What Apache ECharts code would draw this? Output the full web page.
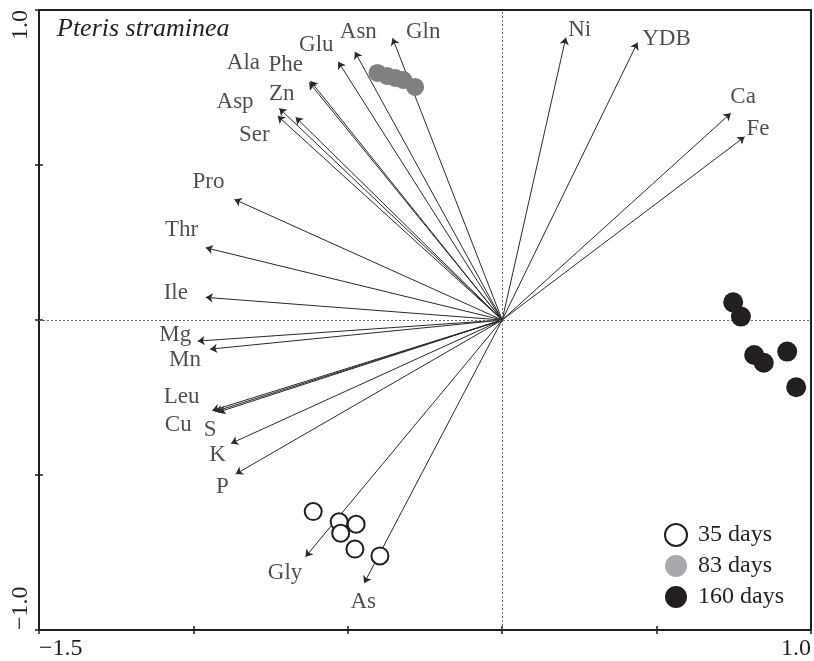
<!DOCTYPE html>
<html>
<head>
<meta charset="utf-8">
<script src="https://cdn.jsdelivr.net/npm/echarts@6/dist/echarts.min.js"></script>
<style>html,body{margin:0;padding:0;background:#fff}#c{width:814px;height:661px}</style>
</head>
<body>
<div id="c"></div>
<script>
// Loading vectors (arrow tips)
const varNames = ['Gln','Asn','Glu','Phe','Ala','Zn','Asp','Ser','Pro','Thr','Ile','Mg','Mn','Leu','Cu','S','K','P','Gly','As','Ni','YDB','Ca','Fe'];
const tipX = [-0.355,-0.477,-0.531,-0.621,-0.625,-0.669,-0.722,-0.727,-0.867,-0.960,-0.960,-0.986,-0.946,-0.939,-0.929,-0.919,-0.878,-0.863,-0.637,-0.447,0.206,0.438,0.740,0.785];
const tipY = [0.909,0.865,0.833,0.771,0.766,0.654,0.683,0.658,0.389,0.233,0.073,-0.068,-0.094,-0.292,-0.295,-0.297,-0.398,-0.497,-0.764,-0.849,0.911,0.895,0.667,0.591];
// Label anchor points (data space)
const labX = [-0.256,-0.466,-0.602,-0.701,-0.838,-0.714,-0.865,-0.803,-0.951,-1.038,-1.057,-1.059,-1.027,-1.038,-1.049,-0.946,-0.922,-0.906,-0.703,-0.450,0.251,0.532,0.780,0.828];
const labY = [0.929,0.928,0.887,0.823,0.828,0.729,0.704,0.597,0.446,0.290,0.088,-0.048,-0.129,-0.247,-0.339,-0.355,-0.435,-0.538,-0.817,-0.909,0.935,0.905,0.720,0.616];

// Sample scores
const d35X = [-0.612,-0.528,-0.473,-0.523,-0.477,-0.396];
const d35Y = [-0.618,-0.651,-0.659,-0.688,-0.739,-0.761];
const d83X = [-0.404,-0.372,-0.346,-0.320,-0.282];
const d83Y = [0.797,0.787,0.781,0.774,0.752];
const d160X = [0.748,0.773,0.816,0.847,0.923,0.952];
const d160Y = [0.057,0.011,-0.113,-0.138,-0.102,-0.217];

const groupNames = ['35 days','83 days','160 days'];
const xTickLabels = [-1.5, 1.0];
const yTickLabels = [-1.0, 1.0];
const titleText = 'Pteris straminea';

const FONT = 'Liberation Serif';
const INK = '#231f20';

const zip = (a,b) => a.map((v,i)=>[v,b[i]]);
const fmt = v => (v<0?'\u2212':'') + Math.abs(v).toFixed(1);

const chart = echarts.init(document.getElementById('c'), null, {renderer:'canvas'});

const arrowData = varNames.map((n,i)=>({name:n, coords:[[0,0],[tipX[i],tipY[i]]]}));
const labelData = varNames.map((n,i)=>({name:n, value:[labX[i],labY[i]]}));

const baseAxis = {
  type:'value', splitLine:{show:false}
};

chart.setOption({
  animation:false,
  backgroundColor:'#fff',
  title:{text:titleText, left:57, top:16, padding:0,
    textStyle:{fontFamily:FONT, fontStyle:'italic', fontWeight:'normal', fontSize:26, color:INK}},
  grid:{left:39, right:1, top:10, bottom:31, show:true, borderColor:INK, borderWidth:2, backgroundColor:'transparent'},
  legend:{
    data:[
      {name:groupNames[0]},
      {name:groupNames[1], itemStyle:{color:'#a7a9ac'}},
      {name:groupNames[2]}
    ],
    orient:'vertical', left:664, top:523, itemWidth:22, itemHeight:22, itemGap:7,
    icon:'circle', padding:0,
    textStyle:{fontFamily:FONT, fontSize:24, color:INK, padding:[0,0,0,6]}
  },
  xAxis:[
    Object.assign({}, baseAxis, {min:-1.5, max:1.0, interval:0.5, position:'bottom',
      axisLine:{show:true, onZero:false, lineStyle:{color:INK, width:2}},
      axisTick:{show:true, inside:false, length:4, lineStyle:{color:INK, width:1.5}},
      axisLabel:{fontFamily:FONT, fontSize:24, color:INK, margin:7,
        alignMinLabel:'left', alignMaxLabel:'right',
        formatter: v => xTickLabels.some(t=>Math.abs(t-v)<1e-9) ? fmt(v) : ''}}),
    Object.assign({}, baseAxis, {min:-1.5, max:1.0, interval:0.5, position:'bottom',
      axisLine:{show:false, onZero:false}, axisLabel:{show:false},
      axisTick:{show:true, inside:true, length:4, lineStyle:{color:INK, width:1.5}}})
  ],
  yAxis:[
    Object.assign({}, baseAxis, {min:-1.0, max:1.0, interval:0.5, position:'left',
      axisLine:{show:true, onZero:false, lineStyle:{color:INK, width:2}},
      axisTick:{show:true, inside:false, length:4, lineStyle:{color:INK, width:1.5}},
      axisLabel:{fontFamily:FONT, fontSize:24, color:INK, margin:6, rotate:90,
        alignMinLabel:'left', alignMaxLabel:'right',
        formatter: v => yTickLabels.some(t=>Math.abs(t-v)<1e-9) ? fmt(v) : ''}}),
    Object.assign({}, baseAxis, {min:-1.0, max:1.0, interval:0.5, position:'left',
      axisLine:{show:false, onZero:false}, axisLabel:{show:false},
      axisTick:{show:true, inside:true, length:4, lineStyle:{color:INK, width:1.5}}})
  ],
  series:[
    {
      type:'lines', coordinateSystem:'cartesian2d', xAxisIndex:0, yAxisIndex:0,
      symbol:['none','arrow'], symbolSize:7, z:3,
      lineStyle:{color:'#2a2a2a', width:1, opacity:1},
      data:arrowData,
      markLine:{
        silent:true, symbol:['none','none'], label:{show:false},
        lineStyle:{color:'#666', width:1, type:[2,2]},
        data:[{xAxis:0},{yAxis:0}]
      }
    },
    {
      type:'scatter', xAxisIndex:0, yAxisIndex:0, symbolSize:0, silent:true, z:4,
      data:labelData,
      label:{show:true, position:[0,0], align:'center', verticalAlign:'middle',
        formatter:'{b}', fontFamily:FONT, fontSize:23, color:INK}
    },
    {
      name:groupNames[0], type:'scatter', xAxisIndex:0, yAxisIndex:0, symbol:'circle', symbolSize:17, z:5,
      itemStyle:{color:'#ffffff', borderColor:INK, borderWidth:2, opacity:1},
      data:zip(d35X,d35Y)
    },
    {
      name:groupNames[1], type:'scatter', xAxisIndex:0, yAxisIndex:0, symbol:'circle', symbolSize:18, z:5,
      itemStyle:{color:'#808080', opacity:1},
      data:zip(d83X,d83Y)
    },
    {
      name:groupNames[2], type:'scatter', xAxisIndex:0, yAxisIndex:0, symbol:'circle', symbolSize:20, z:5,
      itemStyle:{color:INK, opacity:1},
      data:zip(d160X,d160Y)
    }
  ]
});
</script>
</body>
</html>
